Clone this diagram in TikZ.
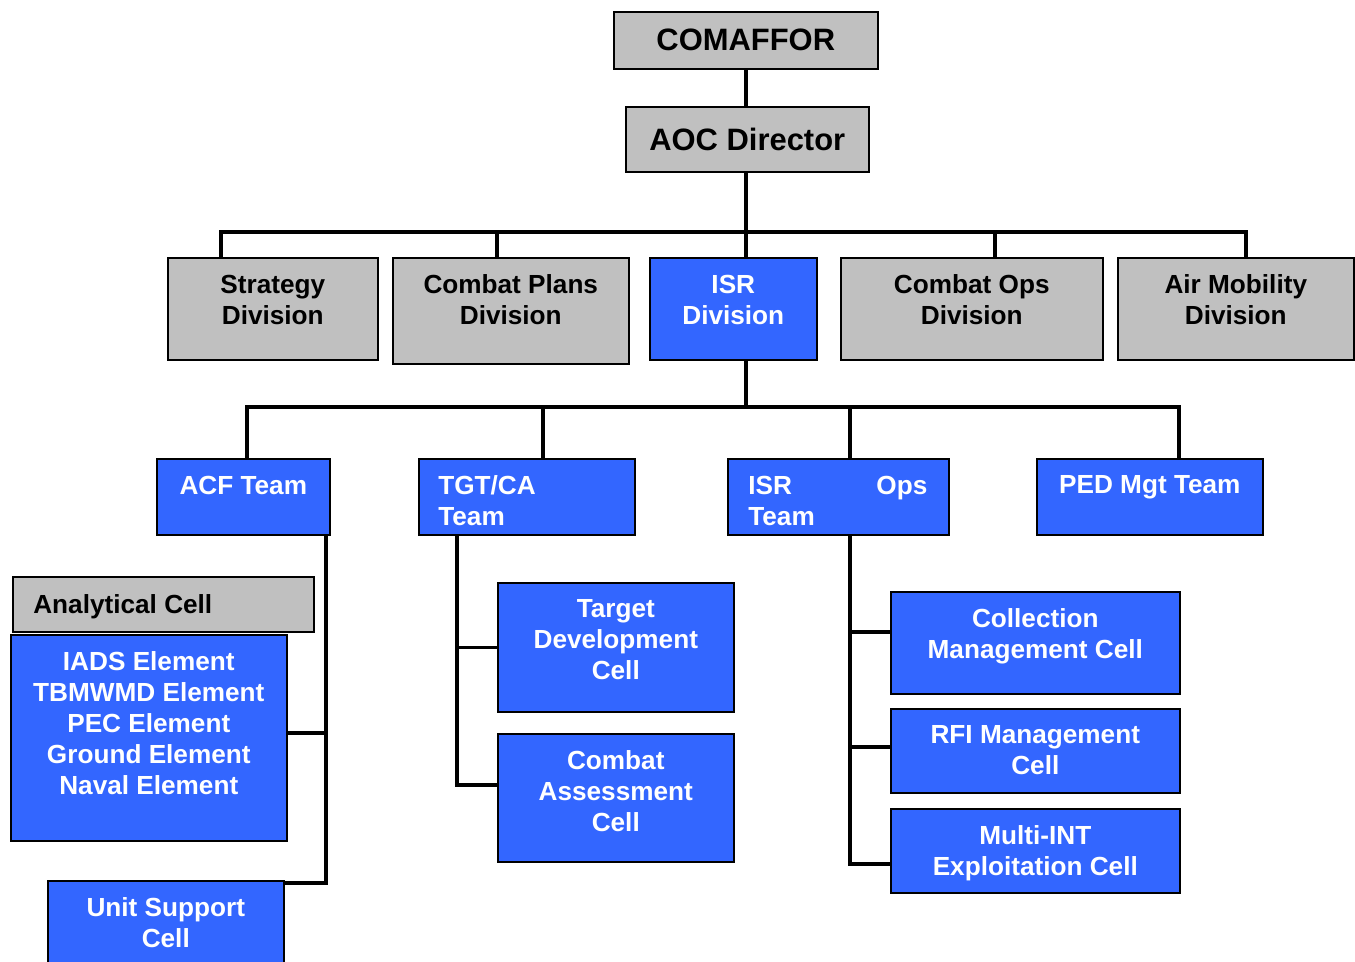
\documentclass[tikz,border=0pt]{standalone}
\usepackage{fontspec}
\setmainfont{Liberation Sans}
\usepackage{xcolor}

\definecolor{isrblue}{HTML}{3366FF}
\definecolor{cellgray}{HTML}{C0C0C0}

\tikzset{
	gbox/.style={draw=black, line width=0.9pt, fill=cellgray, inner sep=0pt, anchor=north west},
	bbox/.style={gbox, fill=isrblue},
	sz/.style 2 args={minimum width=#1*0.02cm, minimum height=#2*0.02cm},
	wtxt/.style={font=\bfseries\fontsize{14.9}{17.6}\selectfont, text=white, align=center, inner sep=0pt, anchor=north},
	ktxt/.style={wtxt, text=black},
	bigtxt/.style={font=\bfseries\fontsize{17.6}{21}\selectfont},
	wire/.style={line width=2pt},
}

\begin{document}
\begin{tikzpicture}[x=0.02cm, y=-0.02cm]
	\useasboundingbox (0,0) rectangle (1355,962);
	% Top of the chart:
	\node[gbox, sz={264}{57}, bigtxt] (comaffor) at (613,11) {COMAFFOR};
	\node[gbox, sz={243}{65}, bigtxt] (aoc) at (625,106) {AOC Director};
	% Divisions:
	\node[gbox, sz={210}{102}] (strat) at (167,257) {} node[ktxt] (strat-t) at ([yshift=-0.35cm]strat.north) {Strategy\\Division};
	\node[gbox, sz={236}{106}] (plans) at (392,257) {} node[ktxt] (plans-t) at ([yshift=-0.35cm]plans.north) {Combat Plans\\Division};
	\node[bbox, sz={167}{102}] (isrdiv) at (649,257) {} node[wtxt] (isrdiv-t) at ([yshift=-0.35cm]isrdiv.north) {ISR\\Division};
	\node[gbox, sz={262}{102}] (cops) at (840,257) {} node[ktxt] (cops-t) at ([yshift=-0.35cm]cops.north) {Combat Ops\\Division};
	\node[gbox, sz={236}{102}] (airmob) at (1117,257) {} node[ktxt] (airmob-t) at ([yshift=-0.35cm]airmob.north) {Air Mobility\\Division};
	% Teams:
	\node[bbox, sz={173}{76}] (acf) at (156,458) {} node[wtxt] (acf-t) at ([yshift=-0.35cm]acf.north) {ACF Team};
	\node[bbox, sz={216}{76}] (tgt) at (418,458) {} node[wtxt, anchor=north west, align=left] (tgt-t) at ([xshift=0.4cm, yshift=-0.35cm]tgt.north west) {TGT/CA\\Team};
	\node[bbox, sz={221}{76}] (isrops) at (727,458) {} node[wtxt, anchor=north west, align=left, text width=3.58cm] (isrops-t) at ([xshift=0.42cm, yshift=-0.35cm]isrops.north west) {ISR\hspace{\fill}Ops\\Team};
	\node[bbox, sz={226}{76}] (ped) at (1036,458) {} node[wtxt] (ped-t) at ([yshift=-0.35cm]ped.north) {PED Mgt Team};
	% Cells under ACF:
	\node[gbox, sz={301}{55}] (anal) at (12,576) {} node[ktxt, anchor=north west] (anal-t) at ([xshift=0.42cm, yshift=-0.37cm]anal.north west) {Analytical Cell};
	\node[bbox, sz={276}{206}] (elem) at (10,634) {} node[wtxt] (elem-t) at ([yshift=-0.35cm]elem.north) {IADS Element\\TBMWMD Element\\PEC Element\\Ground Element\\Naval Element};
	\node[bbox, sz={236}{110}] (unit) at (47,880) {} node[wtxt] (unit-t) at ([yshift=-0.35cm]unit.north) {Unit Support\\Cell};
	% Cells under TGT/CA:
	\node[bbox, sz={236}{129}] (tdev) at (497,582) {} node[wtxt] (tdev-t) at ([yshift=-0.35cm]tdev.north) {Target\\Development\\Cell};
	\node[bbox, sz={236}{128}] (cass) at (497,733) {} node[wtxt] (cass-t) at ([yshift=-0.35cm]cass.north) {Combat\\Assessment\\Cell};
	% Cells under ISR Ops:
	\node[bbox, sz={289}{102}] (coll) at (890,591) {} node[wtxt] (coll-t) at ([yshift=-0.35cm]coll.north) {Collection\\Management Cell};
	\node[bbox, sz={289}{84}] (rfi) at (890,708) {} node[wtxt] (rfi-t) at ([yshift=-0.35cm]rfi.north) {RFI Management\\Cell};
	\node[bbox, sz={289}{84}] (mint) at (890,808) {} node[wtxt] (mint-t) at ([yshift=-0.35cm]mint.north) {Multi-INT\\Exploitation Cell};

	% Wires:
	\coordinate (b2w) at (221,232);
	\coordinate (b2e) at (1246,232);
	\coordinate (b2b) at (497,232);
	\coordinate (b2d) at (995,232);
	\draw[wire] (comaffor.south) -- (comaffor.south |- aoc.north);
	\draw[wire] (comaffor.south |- aoc.south) -- (comaffor.south |- isrdiv.north);
	\draw[wire] (b2w |- strat.north) -- (b2w) -- (b2e) -- (b2e |- airmob.north);
	\draw[wire] (b2b) -- (b2b |- plans.north);
	\draw[wire] (b2d) -- (b2d |- cops.north);

	\coordinate (b3w) at (247,407);
	\coordinate (b3e) at (1179,407);
	\coordinate (b3b) at (543,407);
	\coordinate (b3c) at (850,407);
	\draw[wire] (comaffor.south |- isrdiv.south) -- (comaffor.south |- b3w);
	\draw[wire] (b3w |- acf.north) -- (b3w) -- (b3e) -- (b3e |- ped.north);
	\draw[wire] (b3b) -- (b3b |- tgt.north);
	\draw[wire] (b3c) -- (b3c |- isrops.north);

	\coordinate (acfv) at (326,883);
	\coordinate (acfm) at (326,733);
	\draw[wire] (acfv |- acf.south) -- (acfv) -- (acfv -| unit.east);
	\draw[wire] (acfm) -- (acfm -| elem.east);

	\coordinate (tgtv) at (457,785);
	\draw[wire] (tgtv |- tgt.south) -- (tgtv) -- (tgtv -| cass.west);
	\draw[wire] (tgtv |- tdev.west) -- (tdev.west);

	\coordinate (opsv) at (850,864);
	\coordinate (opsc) at (850,632);
	\coordinate (opsr) at (850,747);
	\draw[wire] (opsv |- isrops.south) -- (opsv) -- (opsv -| mint.west);
	\draw[wire] (opsc) -- (opsc -| coll.west);
	\draw[wire] (opsr) -- (opsr -| rfi.west);
\end{tikzpicture}
\end{document}
